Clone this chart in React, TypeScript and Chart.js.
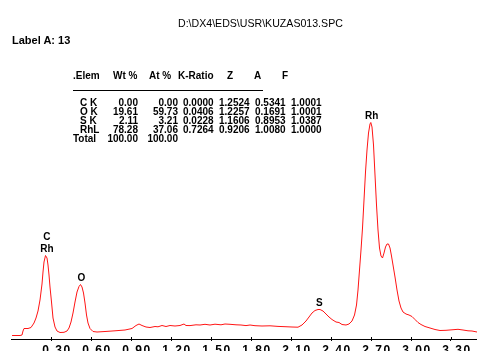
import React, { useEffect, useRef } from "react";
import { Chart, registerables } from "chart.js";

Chart.register(...registerables);

// ---- spectrum data (energy in keV, counts) ----
const ENERGY_KEV = [
  0.008, 0.0675, 0.0825, 0.09, 0.0975, 0.1275, 0.15, 0.1725, 0.1875, 0.2025,
  0.2175, 0.2325, 0.24, 0.2475, 0.2588, 0.27, 0.2775, 0.285, 0.2925, 0.3038,
  0.315, 0.33, 0.345, 0.3675, 0.3975, 0.42, 0.435, 0.45, 0.465, 0.48,
  0.495, 0.51, 0.5213, 0.5325, 0.5438, 0.555, 0.5663, 0.5775, 0.5925, 0.615,
  0.645, 0.705, 0.78, 0.855, 0.9075, 0.9375, 0.96, 0.9825, 1.0125, 1.0425,
  1.08, 1.1025, 1.1325, 1.1625, 1.1925, 1.23, 1.2675, 1.2975, 1.3125, 1.3425,
  1.3875, 1.4175, 1.455, 1.4925, 1.53, 1.575, 1.605, 1.6425, 1.6875, 1.725,
  1.7625, 1.7925, 1.83, 1.8825, 1.9425, 2.0025, 2.055, 2.1075, 2.1525, 2.1825,
  2.2125, 2.235, 2.2575, 2.28, 2.3025, 2.3175, 2.34, 2.3625, 2.385, 2.4075,
  2.4375, 2.46, 2.4825, 2.5125, 2.535, 2.5575, 2.5763, 2.5913, 2.6025, 2.6138,
  2.625, 2.6363, 2.6475, 2.6588, 2.67, 2.6813, 2.6925, 2.6985, 2.7075, 2.7188,
  2.73, 2.7413, 2.7525, 2.7638, 2.775, 2.7863, 2.7975, 2.8088, 2.82, 2.8313,
  2.8425, 2.8538, 2.865, 2.88, 2.895, 2.91, 2.925, 2.94, 2.9625, 2.985,
  3.0075, 3.03, 3.0525, 3.075, 3.105, 3.1425, 3.18, 3.2175, 3.2625, 3.3075,
  3.3525, 3.39, 3.4275, 3.4575, 3.495,
];
const COUNTS = [
  3.5, 3.5, 4, 8, 10.5, 10.5, 11.5, 16, 21, 28,
  39, 55, 67, 77, 83.5, 81, 74, 64, 52, 37,
  21, 12, 8, 6.5, 6.7, 8, 11, 17, 26, 37,
  47, 52.5, 54.5, 52, 46, 36, 24, 16, 10.5, 7.5,
  7, 7.5, 8.2, 9, 10.5, 13.5, 15, 13.5, 12, 11.5,
  12.5, 12.2, 13.5, 12.5, 13.5, 13, 13.5, 15, 13.5, 13.4,
  14.2, 14, 14.7, 14, 14.8, 14.2, 15, 14.7, 14.2, 14,
  13.4, 14, 13.3, 13, 13.2, 12.6, 12.3, 12, 11.8, 14,
  18, 22, 26, 28.5, 29.5, 29.5, 28, 25, 22, 19.5,
  17, 16.5, 14.5, 14, 15, 18, 24, 34, 49, 69,
  89, 111, 139, 167, 189, 206, 215, 216.5, 212, 194,
  164, 134, 109, 91, 83, 81, 86, 92, 95, 95,
  91, 83, 74, 62, 49, 38, 31, 27, 25, 24,
  22.5, 19.5, 16.5, 14.5, 12.5, 11, 9.5, 8.5, 8.7, 9.2,
  9.7, 9, 8.2, 8, 7,
];

// ---- axis ----
const TICK_VALUES = [0.3, 0.6, 0.9, 1.2, 1.5, 1.8, 2.1, 2.4, 2.7, 3.0, 3.3];
const TICK_LABELS = ["0.30", "0.60", "0.90", "1.20", "1.50", "1.80", "2.10", "2.40", "2.70", "3.00", "3.30"];

// ---- peak labels ----
const PEAK_NAMES = [["C", "Rh"], ["O"], ["S"], ["Rh"]];
const PEAK_ENERGIES = [0.262, 0.521, 2.305, 2.698];
const PEAK_COUNTS = [83.5, 54.5, 29.5, 216.5];

// ---- header texts ----
const FILE_NAME = "D:\\DX4\\EDS\\USR\\KUZAS013.SPC";
const LABEL_TEXT = "Label A: 13";

// ---- quantification table ----
const TABLE_HEADERS = [".Elem", "Wt %", "At %", "K-Ratio", "Z", "A", "F"];
const ELEMENTS = ["C K", "O K", "S K", "RhL"];
const WT_PCT = ["0.00", "19.61", "2.11", "78.28"];
const AT_PCT = ["0.00", "59.73", "3.21", "37.06"];
const K_RATIO = ["0.0000", "0.0406", "0.0228", "0.7264"];
const Z_CORR = ["1.2524", "1.2257", "1.1606", "0.9206"];
const A_CORR = ["0.5341", "0.1691", "0.8953", "1.0080"];
const F_CORR = ["1.0001", "1.0001", "1.0387", "1.0000"];
const TOTAL_LABEL = "Total";
const TOTALS = ["100.00", "100.00"];

const FONT = '"Liberation Sans", Arial, sans-serif';
const W = 477;

type TProps = { x?: number; right?: number; base: number; size: number; bold?: boolean; children: React.ReactNode };
function Txt({ x, right, base, size, bold, children }: TProps) {
  const style: React.CSSProperties = {
    position: "absolute",
    top: base - 0.8465 * size,
    fontSize: size,
    lineHeight: `${size}px`,
    fontWeight: bold ? 700 : 400,
    fontFamily: FONT,
    whiteSpace: "pre",
    color: "#000",
  };
  if (right !== undefined) style.right = W - right;
  else style.left = x;
  return <div style={style}>{children}</div>;
}

export default function App() {
  const canvasRef = useRef<HTMLCanvasElement | null>(null);

  useEffect(() => {
    const canvas = canvasRef.current;
    if (!canvas) return;

    const overlay = {
      id: "overlay",
      beforeDraw(chart: any) {
        chart.ctx.letterSpacing = "1.5px";
      },
      beforeDatasetsDraw(chart: any) {
        chart.ctx.letterSpacing = "0px";
        const ctx = chart.ctx;
        const xs = chart.scales.x;
        const bottom = chart.chartArea.bottom;
        ctx.save();
        ctx.strokeStyle = "#000";
        ctx.lineWidth = 1;
        TICK_VALUES.forEach((v) => {
          const px = Math.round(xs.getPixelForValue(v)) + 0.5;
          ctx.beginPath();
          ctx.moveTo(px, bottom - 2);
          ctx.lineTo(px, bottom);
          ctx.stroke();
        });
        ctx.restore();
      },
      afterDraw(chart: any) {
        const ctx = chart.ctx;
        const xs = chart.scales.x;
        const ys = chart.scales.y;
        ctx.save();
        ctx.letterSpacing = "0px";
        ctx.fillStyle = "#000";
        ctx.font = `bold 10px ${FONT}`;
        ctx.textAlign = "center";
        ctx.textBaseline = "alphabetic";
        PEAK_NAMES.forEach((names, i) => {
          const px = xs.getPixelForValue(PEAK_ENERGIES[i]);
          const py = ys.getPixelForValue(PEAK_COUNTS[i]) - 3.5;
          names.forEach((n, j) => {
            ctx.fillText(n, px + 1, py - (names.length - 1 - j) * 12.5);
          });
        });
        ctx.restore();
      },
    };

    const chart = new Chart(canvas, {
      type: "line",
      data: {
        datasets: [
          {
            data: ENERGY_KEV.map((x, i) => ({ x, y: COUNTS[i] })),
            borderColor: "rgb(255,20,20)",
            borderWidth: 1,
            pointRadius: 0,
            tension: 0,
            fill: false,
          },
        ],
      },
      options: {
        responsive: false,
        animation: false,
        devicePixelRatio: 1,
        layout: { padding: { left: 11, right: 0, top: 39, bottom: 0 } },
        plugins: {
          legend: { display: false },
          tooltip: { enabled: false },
          title: { display: false },
        },
        scales: {
          x: {
            type: "linear",
            min: 0,
            max: 3.495,
            position: "bottom",
            afterBuildTicks: (s: any) => {
              s.ticks = TICK_VALUES.map((v) => ({ value: v }));
            },
            afterFit: (s: any) => {
              s.height = 23;
            },
            grid: { drawOnChartArea: false, drawTicks: true, tickLength: 2, color: "#000", lineWidth: 1 },
            border: { display: true, color: "#000", width: 1 },
            ticks: {
              autoSkip: false,
              maxRotation: 0,
              padding: 2,
              labelOffset: 6,
              color: "#000",
              font: { family: FONT, size: 12, weight: "bold" },
              callback: (_v: any, i: number) => TICK_LABELS[i],
            },
          },
          y: { display: false, min: 0, max: 300 },
        },
      } as any,
      plugins: [overlay],
    });
    return () => chart.destroy();
  }, []);

  const headerX = [73, 113, 149, 178, 227, 254, 282];
  const rowBase = [106, 115, 124, 133];
  return (
    <div style={{ position: "absolute", left: 0, top: 0, width: W, height: 351, overflow: "hidden", background: "#fff" }}>
      <canvas ref={canvasRef} width={W} height={362} style={{ position: "absolute", left: 0, top: 0, display: "block" }} />
      <Txt x={178} base={26.7} size={10.6}>{FILE_NAME}</Txt>
      <Txt x={12} base={44.3} size={11} bold>{LABEL_TEXT}</Txt>
      {TABLE_HEADERS.map((h, i) => (
        <Txt key={h} x={headerX[i]} base={79.3} size={10} bold>{h}</Txt>
      ))}
      <div style={{ position: "absolute", left: 73, top: 90, width: 190, height: 1, background: "#000" }} />
      {ELEMENTS.map((el, i) => (
        <React.Fragment key={el}>
          <Txt x={80} base={rowBase[i]} size={10} bold>{el}</Txt>
          <Txt right={138} base={rowBase[i]} size={10} bold>{WT_PCT[i]}</Txt>
          <Txt right={178} base={rowBase[i]} size={10} bold>{AT_PCT[i]}</Txt>
          <Txt x={183} base={rowBase[i]} size={10} bold>{K_RATIO[i]}</Txt>
          <Txt x={219} base={rowBase[i]} size={10} bold>{Z_CORR[i]}</Txt>
          <Txt x={255} base={rowBase[i]} size={10} bold>{A_CORR[i]}</Txt>
          <Txt x={291} base={rowBase[i]} size={10} bold>{F_CORR[i]}</Txt>
        </React.Fragment>
      ))}
      <Txt x={73} base={142} size={10} bold>{TOTAL_LABEL}</Txt>
      <Txt right={138} base={142} size={10} bold>{TOTALS[0]}</Txt>
      <Txt right={178} base={142} size={10} bold>{TOTALS[1]}</Txt>
    </div>
  );
}
